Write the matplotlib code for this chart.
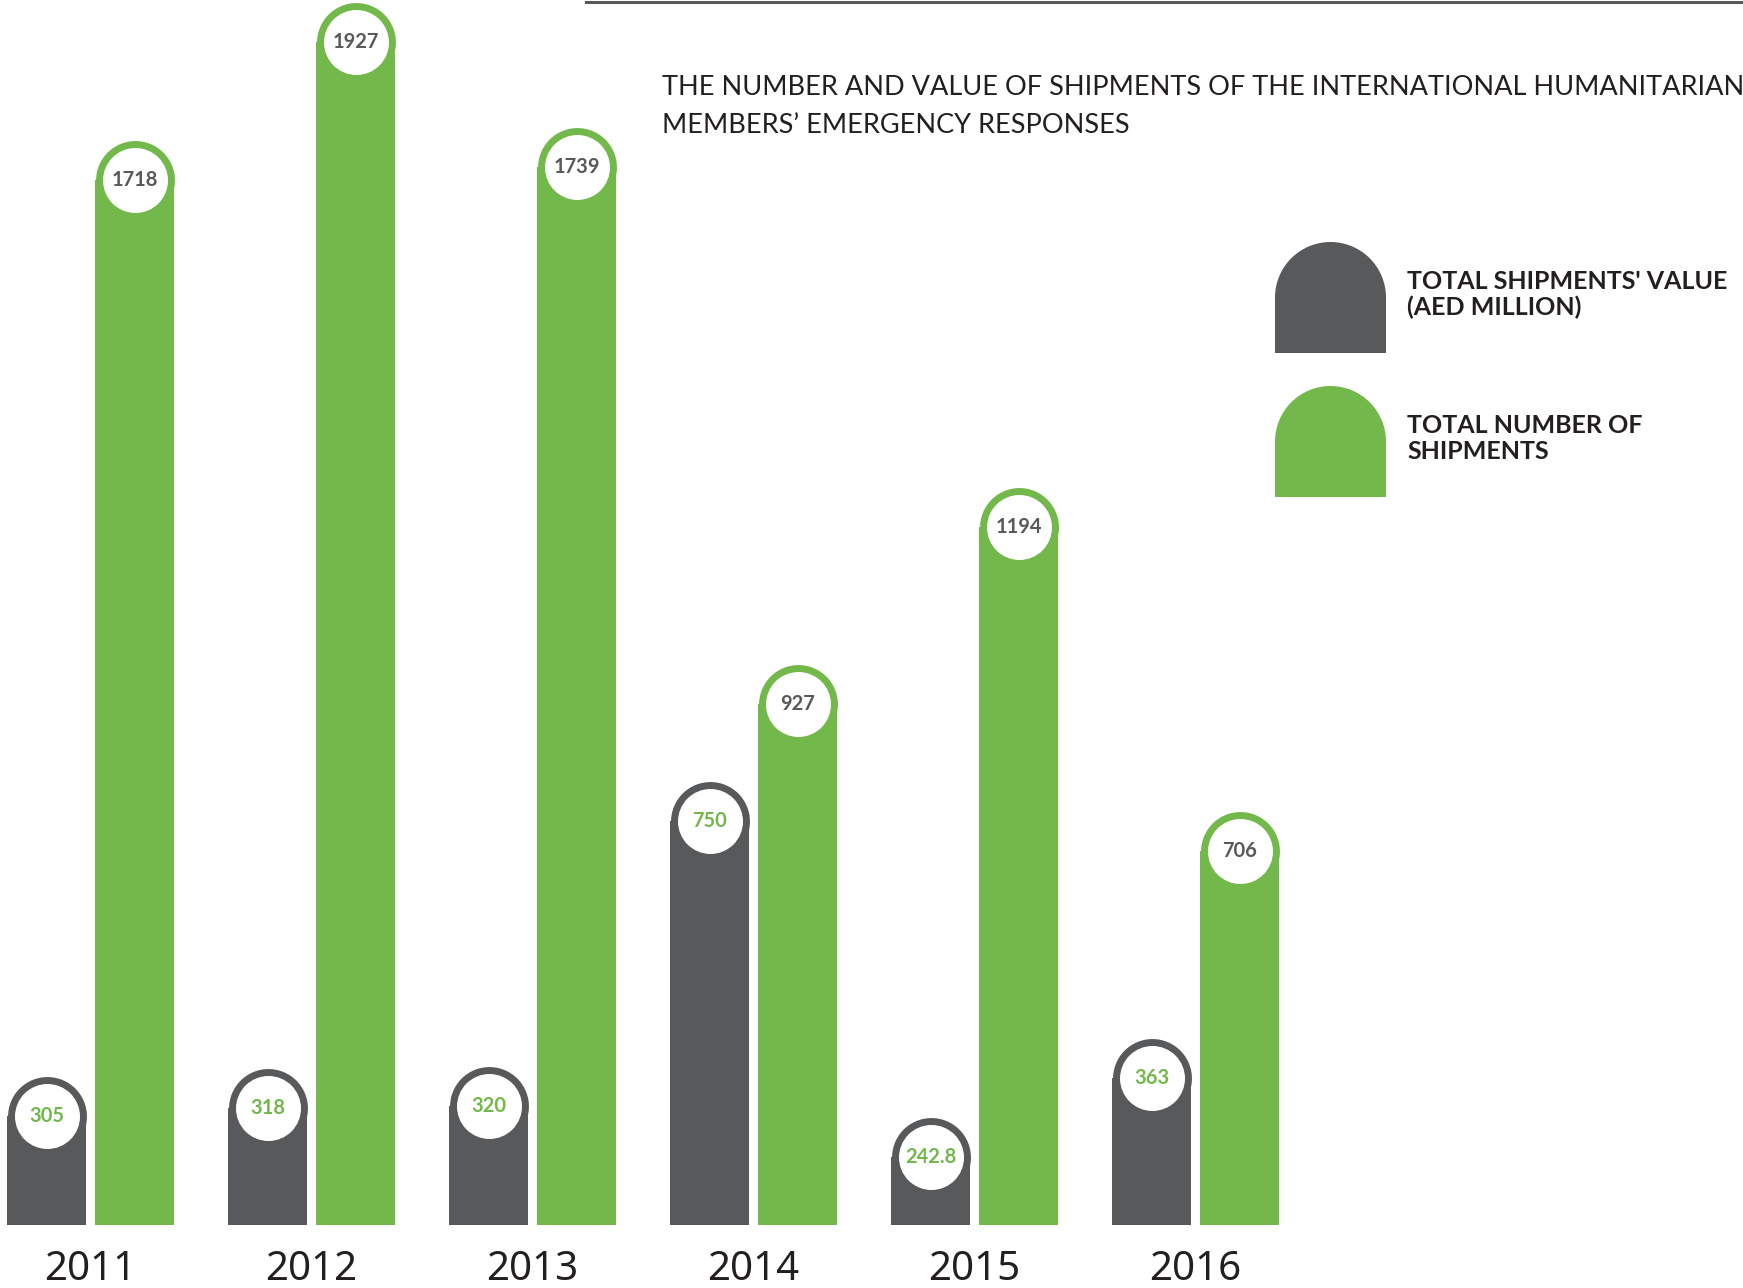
import matplotlib.pyplot as plt
from matplotlib.patches import Rectangle, Wedge
from matplotlib.lines import Line2D

years = ["2011", "2012", "2013", "2014", "2015", "2016"]
value_aed = [305, 318, 320, 750, 242.8, 363]
value_labels = ["305", "318", "320", "750", "242.8", "363"]
shipments = [1718, 1927, 1739, 927, 1194, 706]
shipment_labels = ["1718", "1927", "1739", "927", "1194", "706"]

GRAY = "#58595b"
GREEN = "#73b84b"
DARK = "#231f20"

W, H, DPI = 1743, 1288, 100
BASE_PX = 1225  # bar baseline, pixels from top

fig = plt.figure(figsize=(W / DPI, H / DPI), dpi=DPI)
fig.patch.set_facecolor("white")
ax = fig.add_axes([0, (H - BASE_PX) / H, 1, BASE_PX / H])
xlim = (-0.41, 7.477)
ylim = (81, 1931)
ax.set_xlim(*xlim)
ax.set_ylim(*ylim)
ax.axis("off")

bar_w = 0.357
offset = 0.199

# pixel conversions so the caps stay round
px_x = W / (xlim[1] - xlim[0])
px_y = BASE_PX / (ylim[1] - ylim[0])
r_px = bar_w * px_x / 2
r_y = r_px / px_y
cap_s = (2 * r_px * 72 / DPI) ** 2
dot_s = (65 * 72 / DPI) ** 2


def draw_series(xs, vals, labels, color, text_color):
    centers = [v - r_y for v in vals]
    ax.bar(xs, [c - ylim[0] for c in centers], bottom=ylim[0], width=bar_w,
           color=color, linewidth=0, zorder=2)
    ax.scatter(xs, centers, s=cap_s, color=color, linewidths=0, zorder=3)
    ax.scatter(xs, centers, s=dot_s, color="white", linewidths=0, zorder=4)
    for x, c, lab in zip(xs, centers, labels):
        ax.text(x, c, lab, ha="center", va="center", fontsize=14.5,
                fontweight="bold", color=text_color, family="Lato",
                zorder=5)


idx = range(len(years))
draw_series([i - offset for i in idx], value_aed, value_labels, GRAY, GREEN)
draw_series([i + offset for i in idx], shipments, shipment_labels, GREEN, GRAY)

for i, yr in zip(idx, years):
    ax.text(i, -55 / BASE_PX, yr, transform=ax.get_xaxis_transform(),
            ha="center", va="baseline", fontsize=29, color=DARK,
            family="Noto Sans")

# top rule
fig.add_artist(Line2D([586 / W, 1], [1 - 1.5 / H, 1 - 1.5 / H],
                      transform=fig.transFigure, color=GRAY, lw=2.2))

# title (runs off the right edge, as in the source page)
fig.text(662 / W, 1 - 95 / H,
         "THE NUMBER AND VALUE OF SHIPMENTS OF THE INTERNATIONAL HUMANITARIAN CITY",
         fontsize=19.5, color=DARK, family="Lato", va="baseline")
fig.text(662 / W, 1 - 133 / H, "MEMBERS\u2019 EMERGENCY RESPONSES",
         fontsize=19.5, color=DARK, family="Lato", va="baseline")


# legend
def legend_shape(x_px, top_px, size_px, color):
    r = size_px / 2 / DPI
    x0 = x_px / DPI
    y_bot = (H - top_px - size_px) / DPI
    y_mid = (H - top_px) / DPI - r
    fig.add_artist(Rectangle((x0, y_bot), 2 * r, y_mid - y_bot + 0.01,
                             transform=fig.dpi_scale_trans, color=color, lw=0))
    fig.add_artist(Wedge((x0 + r, y_mid), r, 0, 180,
                         transform=fig.dpi_scale_trans, color=color, lw=0))


legend_items = [
    (GRAY, 242, ["TOTAL SHIPMENTS' VALUE", "(AED MILLION)"]),
    (GREEN, 386, ["TOTAL NUMBER OF", "SHIPMENTS"]),
]
for color, top, lines in legend_items:
    legend_shape(1275, top, 111, color)
    for k, line in enumerate(lines):
        fig.text(1407 / W, 1 - (top + 47 + 26 * k) / H, line, fontsize=18,
                 fontweight="bold", color=DARK, family="Lato", va="baseline")

fig.savefig("out.png", dpi=DPI)
